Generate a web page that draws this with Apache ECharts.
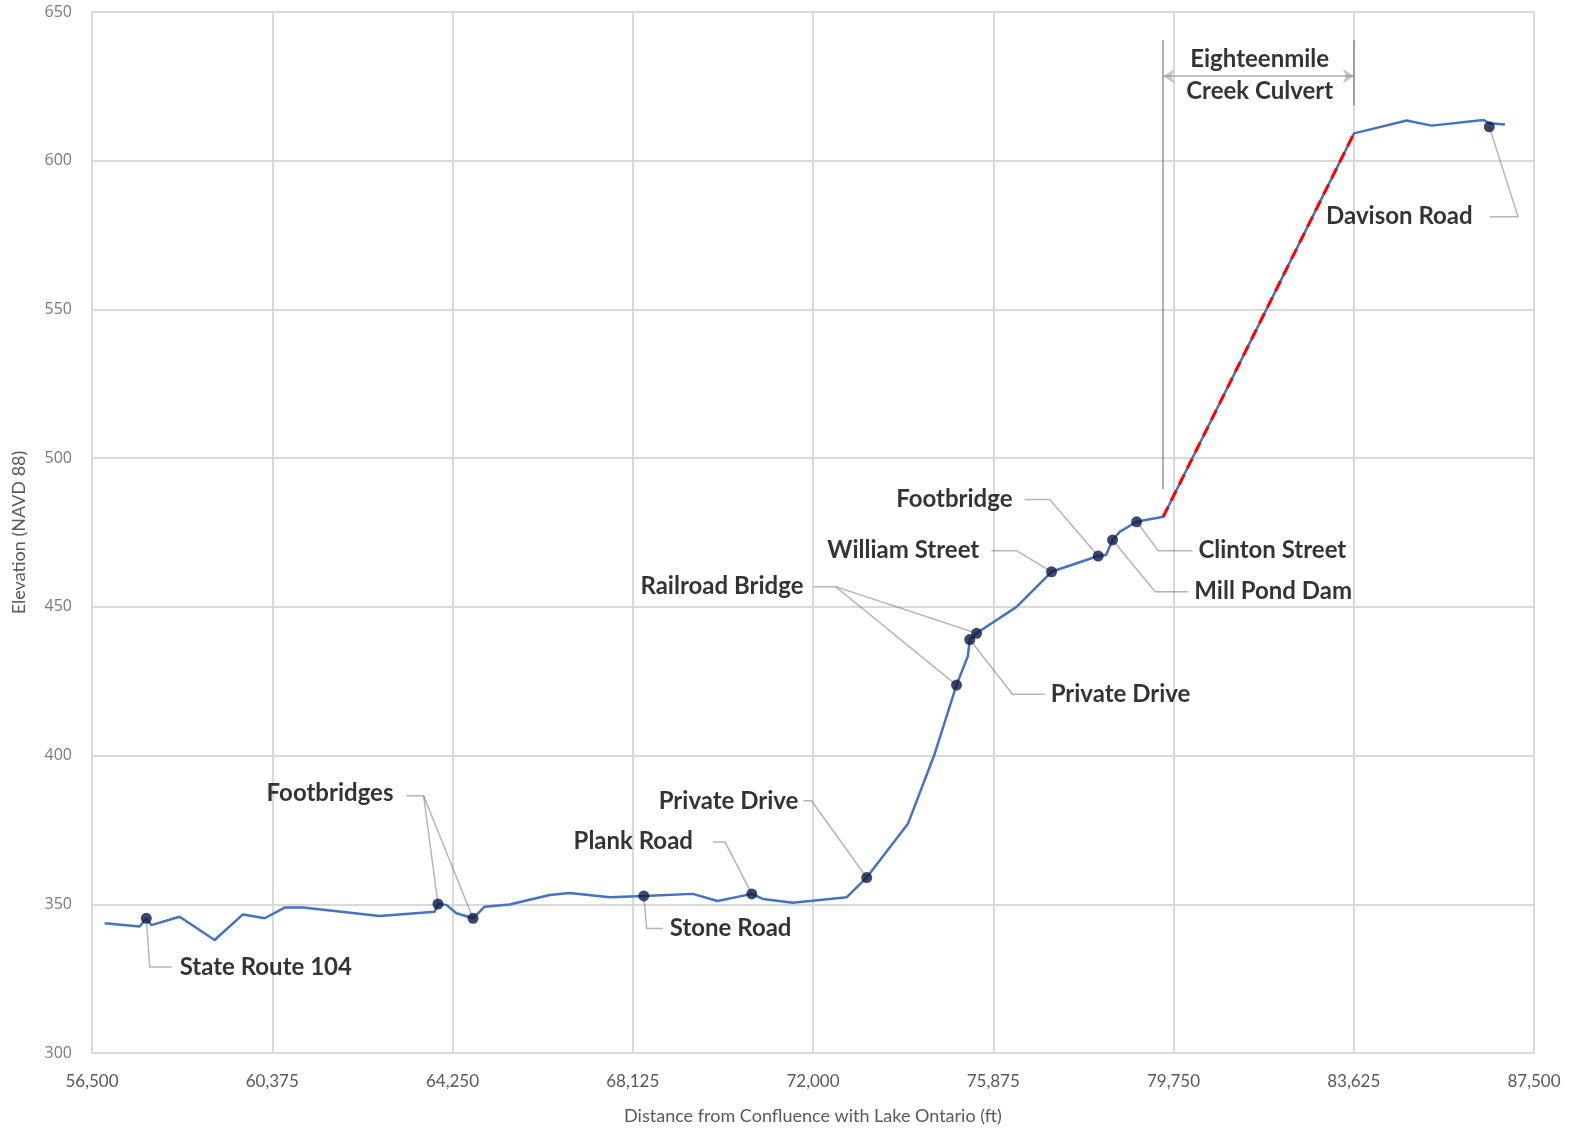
<!DOCTYPE html>
<html>
<head>
<meta charset="utf-8">
<title>Eighteenmile Creek profile</title>
<script src="https://cdn.jsdelivr.net/npm/echarts@6/dist/echarts.min.js"></script>
<style>
  html, body { margin: 0; padding: 0; background: #fff; }
  #chart { width: 1575px; height: 1128px; }
</style>
</head>
<body>
<div id="chart"></div>
<script>
// axis setup
const X_MIN = 56500, X_MAX = 87500, X_STEP = 3875;
const Y_MIN = 300, Y_MAX = 650, Y_STEP = 50;

// water surface profile (distance ft, elevation ft)
const profileDist = [56772, 57524, 57667, 57775, 58384, 59136, 59745, 60212, 60642, 61035,
  62685, 63868, 63938, 64119, 64334, 64691, 64942, 65480, 66340, 66770,
  67631, 68362, 69415, 69953, 70684, 70921, 71566, 72727, 73154, 74045,
  74619, 75085, 75330, 75370, 75516, 76376, 77128, 78131, 78300, 78440,
  78600, 78957, 79529, 83631, 84763, 85300, 86410, 86539, 86876];
const profileElev = [343.6, 342.5, 345.3, 343.0, 345.8, 338.0, 346.6, 345.3, 348.9, 348.9,
  346.1, 347.5, 350.1, 349.8, 347.0, 345.3, 349.2, 349.9, 353.1, 353.8,
  352.4, 352.8, 353.5, 351.1, 353.5, 351.8, 350.5, 352.4, 359.0, 377.2,
  400.7, 423.7, 433.5, 439.0, 441.1, 450.0, 461.8, 467.1, 467.4, 472.5,
  475.3, 478.6, 480.3, 609.2, 613.5, 611.8, 613.7, 612.6, 612.2];

// culvert reach (red dashed)
const culvertDist = [79529, 83631];
const culvertElev = [480.3, 609.2];

// structures (markers)
const structName = ['State Route 104', 'Footbridge', 'Footbridge', 'Stone Road', 'Plank Road',
  'Private Drive', 'Railroad Bridge', 'Private Drive', 'Railroad Bridge', 'William Street',
  'Footbridge', 'Mill Pond Dam', 'Clinton Street', 'Davison Road'];
const structDist = [57667, 63938, 64691, 68362, 70684, 73154, 75085, 75370, 75516, 77128,
  78131, 78440, 78957, 86539];
const structElev = [345.3, 350.1, 345.3, 352.8, 353.5, 359.0, 423.7, 439.0, 441.1, 461.8,
  467.1, 472.5, 478.6, 611.4];

// callout text and where it sits (data coords)
const labelText = ['State Route 104', 'Footbridges', 'Plank Road', 'Stone Road', 'Private Drive',
  'Railroad Bridge', 'Private Drive', 'William Street', 'Footbridge', 'Clinton Street',
  'Mill Pond Dam', 'Davison Road'];
const labelDist = [58384, 62981, 69419, 68922, 71687, 71795, 77109, 75575, 76288, 80285, 80198, 86180];
const labelElev = [328.9, 387.2, 371.3, 341.9, 384.8, 456.8, 420.6, 468.9, 486.1, 468.9, 455.1, 581.2];
const labelSide = ['right', 'left', 'left', 'right', 'left', 'left', 'right', 'left', 'left', 'right', 'right', 'left'];

// leader lines
const leaders = [
  [[57667, 345.3], [57740, 328.9], [58212, 328.9]],
  [[63262, 386.5], [63629, 386.5], [63938, 350.1]],
  [[63629, 386.5], [64691, 345.3]],
  [[69851, 370.9], [70110, 370.9], [70684, 353.5]],
  [[68362, 352.8], [68425, 341.9], [68770, 341.9]],
  [[71795, 384.8], [71968, 384.8], [73154, 359.0]],
  [[72011, 456.8], [72486, 456.8], [75085, 423.7]],
  [[72486, 456.8], [75516, 441.1]],
  [[75370, 439.0], [76288, 420.6], [76980, 420.6]],
  [[75835, 468.9], [76375, 468.9], [77128, 461.8]],
  [[76548, 486.1], [77088, 486.1], [78131, 467.1]],
  [[78957, 478.6], [79421, 468.9], [80155, 468.9]],
  [[78440, 472.5], [79356, 455.1], [80069, 455.1]],
  [[86539, 611.4], [87156, 581.2], [86554, 581.2]]
];

// culvert bracket
const bracketLines = [
  [[79529, 640.5], [79529, 489.5]],
  [[83631, 640.5], [83631, 618.6]]
];
const bracketArrow = [[79529, 628.4], [83631, 628.4]];
const culvertLabel = 'Eighteenmile\nCreek Culvert';
const culvertLabelPos = [81603, 628.7];

const off = x => x - X_MIN;
const pt = p => [off(p[0]), p[1]];

const gridGray = '#d9d9d9';
const textGray = '#595959';
const labelFont = { fontFamily: 'Lato', fontWeight: 'bold', fontSize: 24, color: '#000' };

let chart = echarts.init(document.getElementById('chart'));
let option = {
  animation: false,
  grid: { left: 92, right: 41, top: 12, bottom: 75, outerBoundsMode: 'none', containLabel: false },
  xAxis: {
    type: 'value',
    min: 0,
    max: X_MAX - X_MIN,
    interval: X_STEP,
    name: 'Distance from Confluence with Lake Ontario (ft)',
    nameLocation: 'middle',
    nameGap: 54,
    nameTextStyle: { color: textGray, fontSize: 18, fontFamily: 'Lato' },
    axisLine: { lineStyle: { color: gridGray, width: 2 } },
    axisTick: { show: false },
    splitLine: { lineStyle: { color: gridGray, width: 2 } },
    axisLabel: {
      margin: 20,
      color: textGray,
      fontSize: 17,
      fontFamily: 'Lato',
      formatter: v => (v + X_MIN).toLocaleString('en-US')
    }
  },
  yAxis: {
    type: 'value',
    min: Y_MIN,
    max: Y_MAX,
    interval: Y_STEP,
    name: 'Elevation (NAVD 88)',
    nameLocation: 'middle',
    nameGap: 64,
    nameTextStyle: { color: textGray, fontSize: 18, fontFamily: 'Lato' },
    axisLine: { show: true, lineStyle: { color: gridGray, width: 2 } },
    axisTick: { show: false },
    splitLine: { lineStyle: { color: gridGray, width: 2 } },
    axisLabel: { margin: 20, color: '#7a7a7a', fontSize: 16, fontFamily: 'Open Sans' }
  },
  series: [
    {
      name: 'leaders',
      type: 'lines',
      coordinateSystem: 'cartesian2d',
      polyline: true,
      z: 2,
      lineStyle: { color: '#6b6b6b', width: 1.5 },
      data: leaders.map(l => ({ coords: l.map(pt) }))
    },
    {
      name: 'bracket',
      type: 'lines',
      coordinateSystem: 'cartesian2d',
      z: 2,
      lineStyle: { color: '#5f5f5f', width: 2 },
      data: bracketLines.map(l => ({ coords: l.map(pt) }))
    },
    {
      name: 'bracketArrow',
      type: 'lines',
      coordinateSystem: 'cartesian2d',
      z: 2,
      symbol: ['arrow', 'arrow'],
      symbolSize: 11,
      lineStyle: { color: '#8c8c8c', width: 2 },
      data: [{ coords: bracketArrow.map(pt) }]
    },
    {
      name: 'profile',
      type: 'line',
      z: 3,
      showSymbol: false,
      lineStyle: { color: '#4472C4', width: 2.5 },
      data: profileDist.map((d, i) => [off(d), profileElev[i]])
    },
    {
      name: 'culvert',
      type: 'line',
      z: 4,
      showSymbol: false,
      lineStyle: { color: '#ff0000', width: 3, type: [11, 7] },
      data: culvertDist.map((d, i) => [off(d), culvertElev[i]])
    },
    {
      name: 'structures',
      type: 'scatter',
      z: 5,
      symbolSize: 11,
      itemStyle: { color: '#101a45' },
      data: structDist.map((d, i) => ({ name: structName[i], value: [off(d), structElev[i]] }))
    },
    {
      name: 'labels',
      type: 'scatter',
      z: 6,
      symbolSize: 0,
      silent: true,
      data: labelText.map((t, i) => ({
        value: [off(labelDist[i]), labelElev[i]],
        label: Object.assign({ show: true, formatter: t, position: labelSide[i], distance: 0 }, labelFont)
      })).concat([{
        value: pt(culvertLabelPos),
        label: Object.assign({ show: true, formatter: culvertLabel, position: 'inside', lineHeight: 32, align: 'center' }, labelFont)
      }])
    }
  ]
};
chart.setOption(option);
</script>
</body>
</html>
